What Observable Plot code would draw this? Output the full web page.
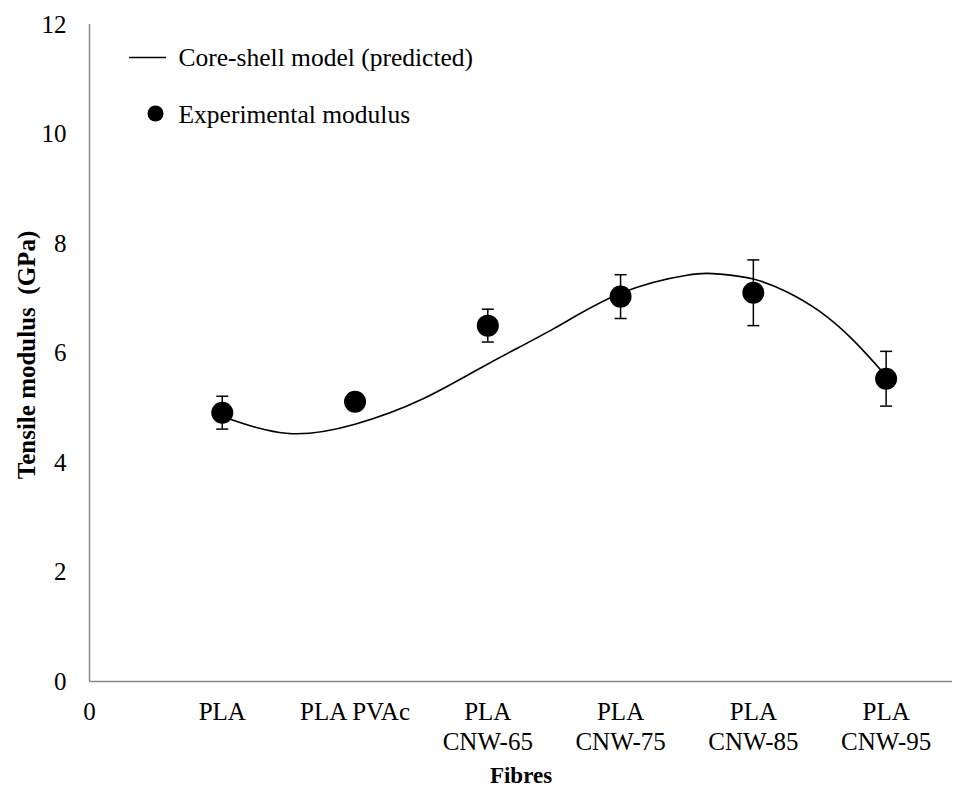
<!DOCTYPE html>
<html>
<head>
<meta charset="utf-8">
<script src="https://cdn.jsdelivr.net/npm/d3@7"></script>
<script src="https://cdn.jsdelivr.net/npm/@observablehq/plot@0.6"></script>
<style>
  html, body { margin: 0; padding: 0; background: #fff; }
</style>
</head>
<body>
<div id="chart"></div>
<script>
// Category tick labels (position 0 is the bare "0" tick)
const xTickPositions = [0, 1, 2, 3, 4, 5, 6];
const xTickLabels = ["0", "PLA", "PLA PVAc", "PLA\nCNW-65", "PLA\nCNW-75", "PLA\nCNW-85", "PLA\nCNW-95"];
const yTicks = [0, 2, 4, 6, 8, 10, 12];

// Experimental modulus (GPa) and error (±)
const fibrePositions = [1, 2, 3, 4, 5, 6];
const experimentalModulus = [4.91, 5.11, 6.50, 7.03, 7.10, 5.53];
const experimentalError = [0.30, 0.08, 0.30, 0.40, 0.60, 0.50];

// Core-shell model (predicted) curve
const modelX = [1, 1.5, 2, 2.5, 3, 3.5, 4, 4.5, 4.75, 5, 5.25, 5.5, 5.75, 6];
const modelY = [4.84, 4.53, 4.70, 5.15, 5.80, 6.45, 7.09, 7.42, 7.44, 7.35, 7.12, 6.76, 6.24, 5.58];

const legendLabels = ["Core-shell model (predicted)", "Experimental modulus"];

const points = fibrePositions.map((x, i) => ({
  x, y: experimentalModulus[i],
  lo: experimentalModulus[i] - experimentalError[i],
  hi: experimentalModulus[i] + experimentalError[i]
}));
const model = modelX.map((x, i) => ({x, y: modelY[i]}));
const ticks = xTickPositions.map((x, i) => ({x, label: xTickLabels[i]}));

const hline = {
  draw(context) { context.moveTo(-6, 0); context.lineTo(6, 0); }
};
const legendLine = {
  draw(context) { context.moveTo(-18.5, 0); context.lineTo(18.5, 0); }
};

const serif = "Liberation Serif";
const axisGray = "#8a8a8a";

const chart = Plot.plot({
  width: 957,
  height: 787,
  marginLeft: 89,
  marginRight: 5,
  marginTop: 24,
  marginBottom: 106,
  style: {fontFamily: serif, fontSize: "25px", color: "#000", background: "#fff"},
  x: {domain: [0, 6.5], axis: null},
  y: {domain: [0, 12], axis: null},
  marks: [
    // axis lines
    Plot.ruleX([0], {stroke: axisGray, strokeWidth: 1.5}),
    Plot.ruleY([0], {stroke: axisGray, strokeWidth: 1.5}),
    // y ticks
    Plot.axisY(yTicks, {anchor: "left", tickSize: 0, tickPadding: 23, fontSize: 25, fontFamily: serif, fontVariant: "normal", tickFormat: d => String(d), label: null}),
    // x tick labels
    Plot.text(ticks, {x: "x", y: 0, text: "label", lineAnchor: "top", lineHeight: 1.2, dy: 17, fontSize: 25, fontFamily: serif, fill: "#000"}),
    // axis titles
    Plot.text(["Tensile modulus\u00a0 (GPa)"], {frameAnchor: "left", textAnchor: "middle", dx: -63, dy: 2, rotate: -90, fontWeight: "bold", fontSize: 25, fontFamily: serif, fill: "#000"}),
    Plot.text(["Fibres"], {frameAnchor: "bottom", dy: 101, fontWeight: "bold", fontSize: 23, fontFamily: serif, fill: "#000"}),
    // model curve
    Plot.line(model, {x: "x", y: "y", curve: "natural", stroke: "#000", strokeWidth: 1.6}),
    // error bars
    Plot.ruleX(points, {x: "x", y1: "lo", y2: "hi", stroke: "#000", strokeWidth: 1.5}),
    Plot.dot(points, {x: "x", y: "lo", symbol: hline, stroke: "#000", strokeWidth: 1.5, fill: "none"}),
    Plot.dot(points, {x: "x", y: "hi", symbol: hline, stroke: "#000", strokeWidth: 1.5, fill: "none"}),
    // experimental points
    Plot.dot(points, {x: "x", y: "y", r: 11, fill: "#000", stroke: "none"}),
    // legend
    Plot.dot([legendLabels[0]], {frameAnchor: "top-left", dx: 58, dy: 33, symbol: legendLine, stroke: "#000", strokeWidth: 1.5, fill: "none"}),
    Plot.text([legendLabels[0]], {frameAnchor: "top-left", dx: 89, dy: 33, textAnchor: "start", lineAnchor: "middle", fontSize: 25.5, fontFamily: serif, fill: "#000"}),
    Plot.dot([legendLabels[1]], {frameAnchor: "top-left", dx: 66, dy: 89, r: 8, fill: "#000", stroke: "none"}),
    Plot.text([legendLabels[1]], {frameAnchor: "top-left", dx: 89, dy: 90, textAnchor: "start", lineAnchor: "middle", fontSize: 25.5, fontFamily: serif, fill: "#000"})
  ]
});
document.getElementById("chart").appendChild(chart);
</script>
</body>
</html>
